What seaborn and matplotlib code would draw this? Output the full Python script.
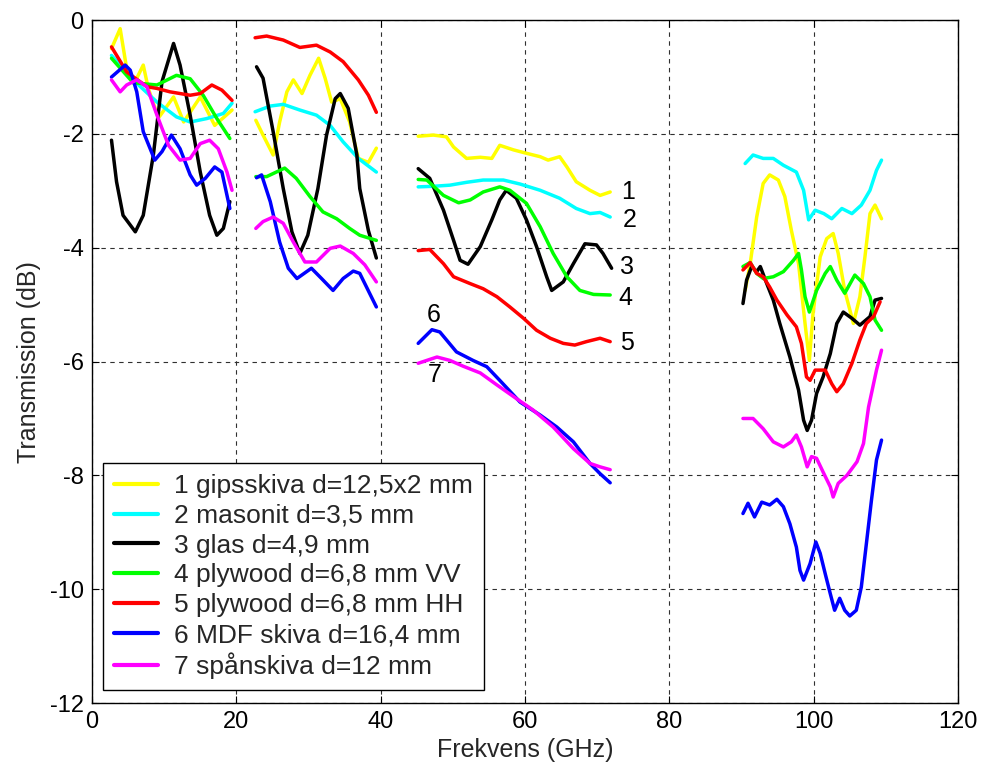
import numpy as np
import pandas as pd
import seaborn as sns
import matplotlib.pyplot as plt

# measured transmission per material, frequency (GHz) and level (dB)
# the measurements come in four frequency bands
names = ["1 gipsskiva d=12,5x2 mm", "2 masonit d=3,5 mm", "3 glas d=4,9 mm",
         "4 plywood d=6,8 mm VV", "5 plywood d=6,8 mm HH",
         "6 MDF skiva d=16,4 mm", "7 spånskiva d=12 mm"]
colors = ["#ffff00", "#00ffff", "#000000", "#00ff00", "#ff0000", "#0000ff", "#ff00ff"]
band_edges = [21, 42, 80]

f1 = [2.7, 3.9, 4.8, 5.9, 7.1, 7.8, 9.2, 11.3, 12.7, 15.0, 17.0, 19.4,
      22.7, 23.7, 25.1, 26.0, 27.0, 27.9, 29.1, 30.2, 31.4, 32.3, 33.2, 34.4, 35.7, 36.9, 38.3, 39.4,
      45.2, 47.3, 49.1, 50.1, 51.9, 53.8, 55.4, 56.5, 58.4, 60.2, 62.1, 63.2, 64.8, 65.8, 67.1, 69.0, 70.4, 71.8,
      90.5, 91.2, 92.1, 93.0, 93.9, 95.1, 96.0, 96.9, 97.9, 98.8, 99.4, 99.9, 100.9, 101.8, 102.7, 103.4,
      104.3, 105.5, 106.4, 107.1, 107.8, 108.5, 109.4]
t1 = [-0.50, -0.15, -0.85, -1.10, -0.79, -1.20, -1.72, -1.35, -1.79, -1.35, -1.85, -1.58,
      -1.76, -2.02, -2.37, -1.79, -1.26, -1.05, -1.29, -0.97, -0.67, -1.02, -1.44, -1.38, -1.79, -2.43, -2.50, -2.25,
      -2.04, -2.02, -2.05, -2.23, -2.43, -2.41, -2.43, -2.20, -2.28, -2.34, -2.40, -2.46, -2.40, -2.58, -2.84, -2.99, -3.08, -3.02,
      -4.75, -4.28, -3.46, -2.87, -2.72, -2.81, -3.10, -3.69, -4.28, -5.33, -5.98, -5.16, -4.16, -3.84, -3.75, -4.10,
      -4.75, -5.33, -4.86, -4.16, -3.40, -3.25, -3.49]

f2 = [2.7, 5.7, 9.0, 11.7, 13.6, 15.9, 18.2, 19.4,
      22.6, 24.7, 26.5, 28.8, 31.1, 33.0, 34.8, 36.9, 39.4,
      45.2, 47.3, 49.6, 51.9, 54.2, 57.0, 59.3, 62.1, 64.8, 67.1, 69.0, 70.4, 71.8,
      90.5, 91.6, 93.0, 94.4, 95.8, 97.6, 98.6, 99.3, 100.2, 101.4, 102.5, 103.9, 105.3, 106.6, 107.8, 108.7, 109.4]
t2 = [-0.62, -1.05, -1.44, -1.70, -1.79, -1.73, -1.64, -1.46,
      -1.61, -1.51, -1.48, -1.58, -1.67, -1.85, -2.14, -2.43, -2.67,
      -2.93, -2.92, -2.90, -2.85, -2.81, -2.81, -2.88, -2.99, -3.13, -3.31, -3.40, -3.38, -3.46,
      -2.52, -2.37, -2.43, -2.43, -2.55, -2.67, -2.99, -3.51, -3.34, -3.40, -3.49, -3.31, -3.40, -3.25, -2.99, -2.64, -2.46]

f3 = [2.7, 3.4, 4.3, 6.0, 7.1, 8.5, 9.7, 11.3, 12.2, 13.6, 15.0, 16.3, 17.3, 18.2, 19.1,
      22.8, 23.7, 25.1, 26.5, 27.7, 28.8, 29.9, 31.3, 32.5, 33.7, 34.4, 35.5, 36.7, 37.1, 38.3, 39.4,
      45.2, 46.8, 48.7, 50.1, 51.0, 52.1, 53.8, 55.4, 56.5, 57.4, 58.8, 60.2, 61.6, 63.0, 63.7, 65.3,
      66.7, 68.3, 69.9, 70.8, 72.0,
      90.2, 90.7, 91.4, 92.1, 92.6, 93.5, 94.4, 95.3, 96.7, 97.9, 98.6, 99.1, 99.7, 100.4, 101.3, 102.3,
      103.2, 104.1, 105.3, 106.4, 107.8, 108.5, 109.4]
t3 = [-2.11, -2.84, -3.43, -3.72, -3.43, -2.37, -1.08, -0.41, -0.79, -1.67, -2.67, -3.43, -3.78, -3.66, -3.19,
      -0.82, -1.02, -1.96, -2.96, -3.72, -4.10, -3.78, -2.96, -2.02, -1.38, -1.29, -1.55, -2.37, -2.96, -3.70, -4.18,
      -2.61, -2.78, -3.34, -3.87, -4.22, -4.29, -3.98, -3.51, -3.16, -2.99, -3.13, -3.51, -3.98, -4.51, -4.75, -4.60,
      -4.28, -3.93, -3.95, -4.10, -4.36,
      -4.98, -4.57, -4.33, -4.42, -4.33, -4.63, -4.92, -5.33, -5.92, -6.50, -7.03, -7.21, -7.03, -6.56, -6.27, -5.86,
      -5.33, -5.13, -5.24, -5.36, -5.21, -4.92, -4.89]

f4 = [2.7, 5.7, 9.0, 11.7, 13.6, 15.4, 17.3, 19.1,
      22.7, 24.2, 26.7, 28.3, 30.2, 32.0, 33.9, 35.7, 37.1, 39.4,
      45.2, 46.4, 48.7, 50.8, 52.4, 54.2, 56.5, 57.9, 60.2, 62.1, 63.9, 65.8, 67.6, 69.5, 71.8,
      90.2, 91.2, 92.1, 93.0, 94.4, 95.8, 97.2, 97.9, 98.3, 98.8, 99.4, 100.4, 101.6, 102.3, 103.2, 104.3,
      105.7, 106.9, 107.8, 108.5, 109.4]
t4 = [-0.67, -1.10, -1.14, -0.97, -1.03, -1.32, -1.73, -2.08,
      -2.75, -2.75, -2.60, -2.78, -3.10, -3.37, -3.49, -3.66, -3.78, -3.87,
      -2.80, -2.81, -3.08, -3.21, -3.16, -3.02, -2.93, -2.99, -3.22, -3.63, -4.10, -4.51, -4.75, -4.82, -4.83,
      -4.33, -4.26, -4.45, -4.54, -4.51, -4.42, -4.22, -4.10, -4.39, -4.86, -5.13, -4.75, -4.45, -4.33, -4.57, -4.80,
      -4.48, -4.63, -4.86, -5.27, -5.45]

f5 = [2.7, 4.8, 7.6, 9.0, 10.8, 13.6, 15.0, 16.6, 18.0, 19.4,
      22.6, 24.2, 26.5, 28.8, 31.1, 33.0, 34.8, 36.9, 38.3, 39.4,
      45.2, 46.8, 48.7, 50.1, 52.4, 54.2, 56.1, 57.9, 59.8, 61.6, 63.5, 65.3, 66.9, 68.5, 70.4, 71.8,
      90.2, 91.2, 92.1, 93.0, 93.9, 94.9, 96.3, 97.6, 98.3, 99.0, 99.5, 100.2, 101.6, 102.5, 103.2, 104.1,
      105.3, 106.4, 107.3, 108.3, 109.2]
t5 = [-0.47, -0.91, -1.17, -1.20, -1.26, -1.32, -1.29, -1.14, -1.23, -1.41,
      -0.31, -0.28, -0.35, -0.48, -0.44, -0.56, -0.73, -1.05, -1.32, -1.62,
      -4.05, -4.03, -4.28, -4.51, -4.63, -4.72, -4.86, -5.04, -5.24, -5.45, -5.59, -5.68, -5.71, -5.65, -5.59, -5.65,
      -4.39, -4.26, -4.45, -4.51, -4.69, -4.92, -5.18, -5.39, -5.68, -6.27, -6.33, -6.15, -6.15, -6.39, -6.53, -6.39,
      -6.03, -5.62, -5.33, -5.21, -4.95]

f6 = [2.7, 4.6, 5.3, 6.2, 7.1, 8.7, 9.7, 11.0, 12.2, 13.6, 14.5, 15.7, 17.0, 18.0, 19.1,
      22.8, 23.5, 24.7, 26.0, 27.2, 28.4, 30.4, 31.8, 33.4, 34.8, 36.2, 37.1, 39.4,
      45.2, 47.1, 48.2, 50.5, 52.8, 54.7, 56.5, 59.3, 62.1, 64.4, 66.7, 69.0, 70.4, 71.8,
      90.2, 90.9, 91.8, 92.8, 93.9, 94.9, 95.8, 96.7, 97.6, 98.1, 98.6, 99.5, 100.3, 100.9, 101.6, 102.3,
      102.9, 103.6, 104.3, 105.0, 105.9, 106.6, 107.3, 108.0, 108.7, 109.4]
t6 = [-1.00, -0.79, -0.88, -1.26, -1.96, -2.46, -2.31, -2.02, -2.26, -2.72, -2.90, -2.78, -2.58, -2.67, -3.31,
      -2.77, -2.72, -3.19, -3.90, -4.36, -4.54, -4.36, -4.54, -4.75, -4.54, -4.41, -4.45, -5.04,
      -5.68, -5.44, -5.48, -5.83, -5.98, -6.09, -6.33, -6.71, -6.94, -7.15, -7.41, -7.79, -7.97, -8.13,
      -8.67, -8.49, -8.73, -8.47, -8.52, -8.42, -8.55, -8.85, -9.26, -9.67, -9.84, -9.55, -9.17, -9.37, -9.73, -10.08,
      -10.37, -10.16, -10.37, -10.47, -10.37, -9.96, -9.20, -8.44, -7.73, -7.38]

f7 = [2.7, 3.9, 4.8, 6.2, 7.6, 9.0, 10.6, 12.2, 13.6, 15.0, 16.3, 17.5, 18.7, 19.4,
      22.7, 23.7, 25.1, 26.5, 27.9, 29.5, 31.1, 33.0, 34.4, 36.2, 37.8, 39.4,
      45.2, 47.8, 49.6, 51.4, 53.8, 56.1, 58.8, 61.1, 63.9, 66.7, 69.0, 70.4, 71.8,
      90.2, 91.6, 93.0, 94.4, 95.8, 96.9, 97.6, 98.3, 99.1, 99.7, 100.4, 101.3, 102.3, 102.7, 103.4,
      104.6, 106.0, 106.9, 107.6, 108.7, 109.4]
t7 = [-1.05, -1.26, -1.14, -1.05, -1.17, -1.67, -2.20, -2.46, -2.43, -2.17, -2.11, -2.26, -2.67, -2.99,
      -3.66, -3.54, -3.46, -3.57, -3.90, -4.25, -4.25, -4.01, -3.97, -4.10, -4.30, -4.60,
      -6.03, -5.92, -5.98, -6.08, -6.20, -6.41, -6.65, -6.85, -7.15, -7.53, -7.79, -7.85, -7.90,
      -7.00, -7.00, -7.18, -7.41, -7.50, -7.41, -7.29, -7.50, -7.85, -7.67, -7.70, -7.94, -8.20, -8.38, -8.14,
      -8.00, -7.76, -7.44, -6.80, -6.15, -5.80]

freqs = [f1, f2, f3, f4, f5, f6, f7]
levels = [t1, t2, t3, t4, t5, t6, t7]

# curve numbers written next to the 45-72 GHz band
label_text = ["1", "2", "3", "4", "5", "6", "7"]
label_x = [74.3, 74.5, 74.1, 73.9, 74.1, 47.3, 47.5]
label_y = [-3.02, -3.51, -4.34, -4.89, -5.68, -5.18, -6.24]

frames = []
for name, f, t in zip(names, freqs, levels):
    frames.append(pd.DataFrame({"Frekvens": f, "Transmission": t, "Material": name,
                                "Band": np.digitize(f, band_edges)}))
df = pd.concat(frames, ignore_index=True)

sns.set_style("ticks")
plt.rcParams['font.family'] = ['Liberation Sans', 'DejaVu Sans']
plt.rcParams['axes.unicode_minus'] = False

fig = plt.figure(figsize=(9.83, 7.74), dpi=100)
ax = fig.add_axes([0.0936, 0.0917, 0.881, 0.8823])

sns.lineplot(data=df, x="Frekvens", y="Transmission", hue="Material",
             units="Band", estimator=None, palette=colors, hue_order=names,
             linewidth=2.5, sort=False, ax=ax)

for s, x, y in zip(label_text, label_x, label_y):
    ax.text(x, y, s, fontsize=18, ha="center", va="center", color="black")

ax.set_xlim(0, 120)
ax.set_ylim(-12, 0)
ax.set_xticks(range(0, 121, 20))
ax.set_yticks(range(-12, 1, 2))
ax.grid(True, color="#303030", linestyle=(0, (4, 4)), linewidth=0.8)
ax.tick_params(direction="in", length=5, width=0.8, labelsize=17,
               top=True, right=True, colors="black", pad=6)
for sp in ax.spines.values():
    sp.set_color("black")
    sp.set_linewidth(1.0)
ax.set_xlabel("Frekvens (GHz)", fontsize=18, labelpad=3)
ax.set_ylabel("Transmission (dB)", fontsize=18, labelpad=6)

leg = ax.legend(loc="lower left", bbox_to_anchor=(0.0127, 0.019),
                borderaxespad=0, fontsize=19, frameon=True, fancybox=False,
                handlelength=1.7, labelspacing=0.22, borderpad=0.4,
                handletextpad=0.6, title=None)
leg.get_frame().set_edgecolor("black")
leg.get_frame().set_linewidth(1.0)
leg.get_frame().set_alpha(1)
for line in leg.get_lines():
    line.set_linewidth(3)

fig.savefig("out.png", dpi=100)
